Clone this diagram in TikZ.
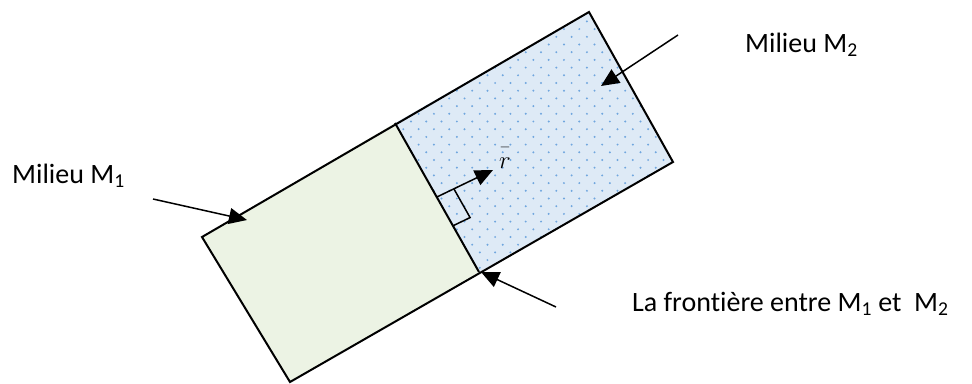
\documentclass[tikz,border=0pt]{standalone}
\usepackage{fontspec}
\setmainfont{Carlito}[Ligatures=NoCommon]
\usetikzlibrary{arrows.meta,calc}

\definecolor{greenfill}{RGB}{236,243,228}
\definecolor{bluefill}{RGB}{222,234,246}
\definecolor{bluedot}{RGB}{112,166,222}

\begin{document}
\begin{tikzpicture}[
    x=1pt, y=-1pt,
    >={Triangle[length=18pt,width=16pt]},
    region/.style={
        draw=black,
        line width=2pt,
        line join=miter
    },
    labeltext/.style={
        anchor=base west,
        inner sep=0pt,
        font=\fontsize{28}{34}\selectfont
    },
    arrow/.style={->, line width=1.5pt}
]
\useasboundingbox (0,0) rectangle (972,383);

% --- CORNERS ---
\coordinate (left)   at (202,237);
\coordinate (topmid) at (395,123);
\coordinate (topright) at (589,12);
\coordinate (right)  at (673,162);
\coordinate (botmid) at (479,272);
\coordinate (bottom) at (290,382);

% --- REGIONS ---
\fill[greenfill] (left) -- (topmid) -- (botmid) -- (bottom) -- cycle;
\fill[bluefill] (topmid) -- (topright) -- (right) -- (botmid) -- cycle;
\begin{scope}
    \clip (topmid) -- (topright) -- (right) -- (botmid) -- cycle;
    % dotted texture of medium 2
    \foreach \row in {0,...,36} {
        \foreach \col in {0,...,20} {
            \fill[bluedot] ({388+\col*15.3+mod(\row,2)*7.65}, {6+\row*7.7}) circle (1.1pt);
        }
    }
\end{scope}
\draw[region] (left) -- (topright) -- (right) -- (bottom) -- cycle;
\draw[region] (topmid) -- (botmid);

% normal vector and right angle mark
\coordinate (foot) at ($(topmid)!0.497!(botmid)$);
\coordinate (normtip) at (493,170);
\coordinate (sq1) at ($(foot)!19pt!(normtip)$);
\coordinate (sq3) at ($(foot)!33pt!(botmid)$);
\draw[line width=1.5pt] (sq1) -- ($(sq1)+(sq3)-(foot)$) -- (sq3);
\draw[arrow] (foot) -- (normtip);

% --- NODES ---
\node[labeltext] (milieuA) at (12,183) {Milieu M\textsubscript{1}};
\node[labeltext] (milieuB) at (745,52) {Milieu M\textsubscript{2}};
\node[labeltext] (frontiere) at (632,311) {La frontière entre M\textsubscript{1} et\ \ M\textsubscript{2}};
\node[inner sep=0pt, anchor=base, font=\fontsize{26}{30}\selectfont] (rvec) at (505,168) {$\bar{\vphantom{A}r}$};

% --- CONNECTIONS ---
\coordinate (tailA) at (153,199);
\coordinate (tipA)  at (247,220);
\coordinate (tailB) at (678,35);
\coordinate (tipB)  at (601,86);
\coordinate (tailF) at (556,307);
\coordinate (tipF)  at (481,272);
\draw[arrow] (tailA) -- (tipA);
\draw[arrow] (tailB) -- (tipB);
\draw[arrow] (tailF) -- (tipF);

\end{tikzpicture}
\end{document}
